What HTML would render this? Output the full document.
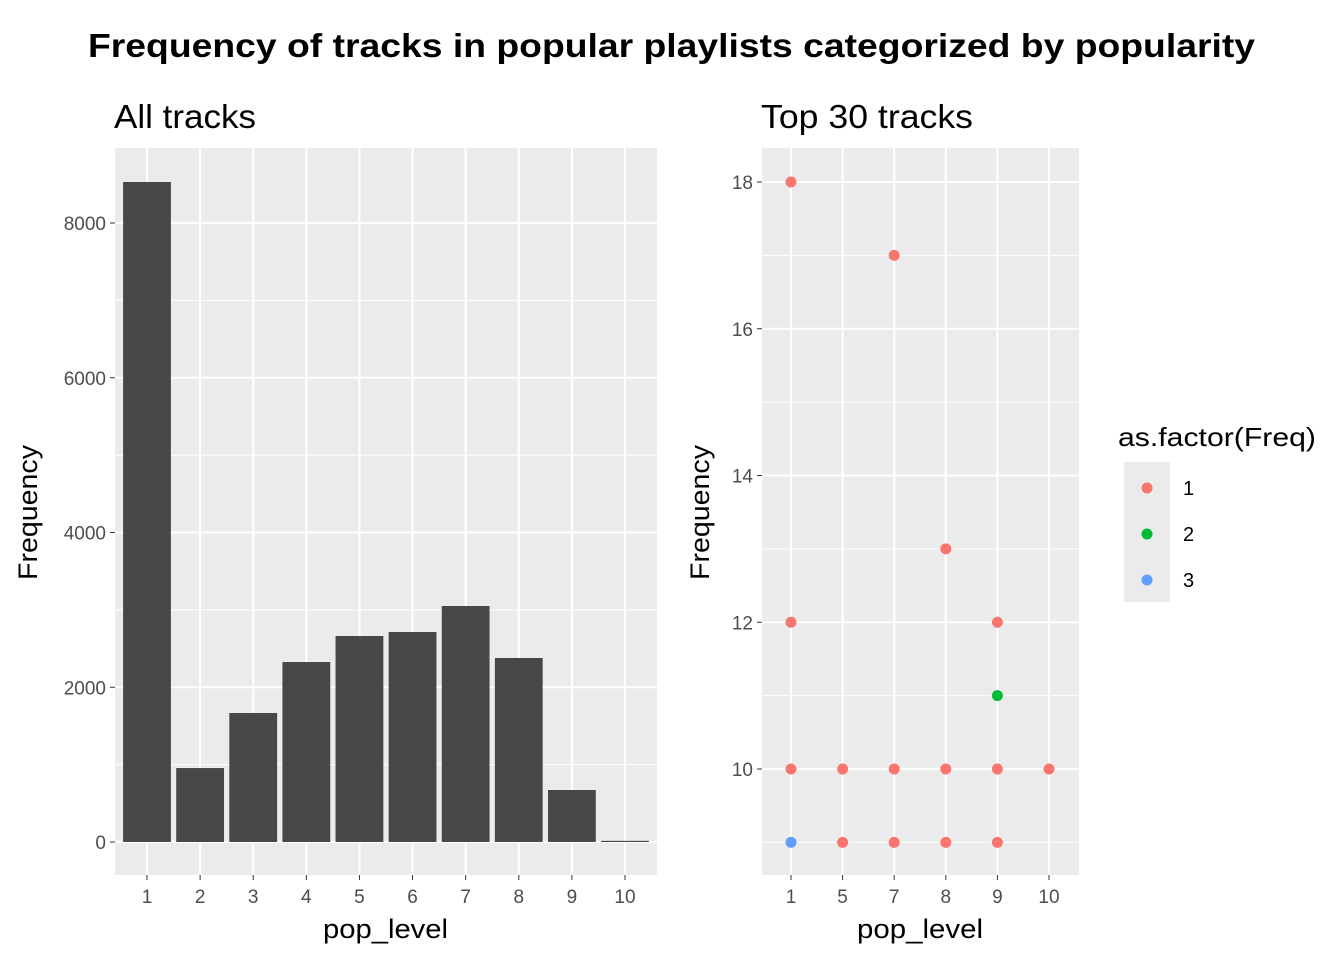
<!DOCTYPE html>
<html><head><meta charset="utf-8">
<style>
body{margin:0;background:#fff;}
svg{display:block;font-family:"Liberation Sans",Arial,sans-serif;}
</style></head>
<body>
<svg id="c" width="1344" height="960" viewBox="0 0 1344 960">
<text x="88" y="57" font-size="33" font-weight="bold" fill="#000" textLength="1167" lengthAdjust="spacingAndGlyphs">Frequency of tracks in popular playlists categorized by popularity</text>
<text x="114" y="128" font-size="33" fill="#000" textLength="142" lengthAdjust="spacingAndGlyphs">All tracks</text>
<text x="761" y="128" font-size="33" fill="#000" textLength="212" lengthAdjust="spacingAndGlyphs">Top 30 tracks</text>
<g id="left"></g>
<g id="right"></g>
<g id="legend"></g>
</svg>
<script>
const barCats=["1","2","3","4","5","6","7","8","9","10"];
const barVals=[8530,956,1667,2326,2662,2714,3050,2378,672,15];
const leftYTicks=[0,2000,4000,6000,8000];
const ptCats=["1","5","7","8","9","10"];
const ptX=["1","7","8","1","9","9","1","5","7","8","9","10","1","5","7","8","9"];
const ptY=[18,17,13,12,12,11,10,10,10,10,10,10,9,9,9,9,9];
const ptGroup=["1","1","1","1","1","2","1","1","1","1","1","1","3","1","1","1","1"];
const rightYTicks=[10,12,14,16,18];
const groups=["1","2","3"];
const groupColors={"1":"#F8766D","2":"#00BA38","3":"#619CFF"};
const NS="http://www.w3.org/2000/svg";
function mk(p,t,a){const e=document.createElementNS(NS,t);for(const k in a)e.setAttribute(k,a[k]);p.appendChild(e);return e;}
// left
const L=document.getElementById('left');
const lx0=115,lx1=657,ly0=148,ly1=875;
const ly=v=>842-v*(842-223)/8000;
const lxBand=i=>147+i*(625-147)/9;
let r=mk(L,'rect',{x:lx0,y:ly0,width:lx1-lx0,height:ly1-ly0,fill:'#EBEBEB'});

for(let i=0;i<leftYTicks.length-1;i++){const m=(leftYTicks[i]+leftYTicks[i+1])/2;mk(L,'line',{x1:lx0,x2:lx1,y1:ly(m),y2:ly(m),stroke:'#fff','stroke-width':1});}
mk(L,'line',{x1:lx0,x2:lx1,y1:ly(9000),y2:ly(9000),stroke:'#fff','stroke-width':1});
leftYTicks.forEach(t=>{mk(L,'line',{x1:lx0,x2:lx1,y1:ly(t),y2:ly(t),stroke:'#fff','stroke-width':2});
mk(L,'line',{x1:lx0-5,x2:lx0,y1:ly(t),y2:ly(t),stroke:'#333','stroke-width':1});
const tx=mk(L,'text',{x:lx0-9,y:ly(t)+7,'text-anchor':'end','font-size':19,fill:'#4D4D4D'});tx.textContent=t;
});
barCats.forEach((c,i)=>{const x=lxBand(i);mk(L,'line',{x1:x,x2:x,y1:ly0,y2:ly1,stroke:'#fff','stroke-width':2});
mk(L,'line',{x1:x,x2:x,y1:ly1,y2:ly1+5,stroke:'#333','stroke-width':1});
const tx=mk(L,'text',{x:x,y:ly1+28,'text-anchor':'middle','font-size':19,fill:'#4D4D4D'});tx.textContent=c;
});
const bw=0.9*(625-147)/9;
barVals.forEach((v,i)=>{const b=mk(L,'rect',{x:lxBand(i)-bw/2,y:ly(v),width:bw,height:ly(0)-ly(v),fill:'#474747'});
});
let t=mk(L,'text',{x:323,y:938,'font-size':27,textLength:125,lengthAdjust:'spacingAndGlyphs'});t.textContent='pop_level';

t=mk(L,'text',{x:0,y:0,'font-size':27,textLength:135,lengthAdjust:'spacingAndGlyphs',transform:'translate(37,580) rotate(-90)'});t.textContent='Frequency';

// right
const R=document.getElementById('right');
const rx0=762,rx1=1079;
const ry=v=>769-(v-10)*(769-182)/8;
const rxBand=i=>791+i*(1049-791)/5;
r=mk(R,'rect',{x:rx0,y:ly0,width:rx1-rx0,height:ly1-ly0,fill:'#EBEBEB'});

[9,11,13,15,17].forEach(m=>mk(R,'line',{x1:rx0,x2:rx1,y1:ry(m),y2:ry(m),stroke:'#fff','stroke-width':1}));
rightYTicks.forEach(t=>{mk(R,'line',{x1:rx0,x2:rx1,y1:ry(t),y2:ry(t),stroke:'#fff','stroke-width':2});
mk(R,'line',{x1:rx0-5,x2:rx0,y1:ry(t),y2:ry(t),stroke:'#333','stroke-width':1});
const tx=mk(R,'text',{x:rx0-9,y:ry(t)+7,'text-anchor':'end','font-size':19,fill:'#4D4D4D'});tx.textContent=t;
});
ptCats.forEach((c,i)=>{const x=rxBand(i);mk(R,'line',{x1:x,x2:x,y1:ly0,y2:ly1,stroke:'#fff','stroke-width':2});
mk(R,'line',{x1:x,x2:x,y1:ly1,y2:ly1+5,stroke:'#333','stroke-width':1});
const tx=mk(R,'text',{x:x,y:ly1+28,'text-anchor':'middle','font-size':19,fill:'#4D4D4D'});tx.textContent=c;
});
ptX.forEach((c,i)=>{const p=mk(R,'circle',{cx:rxBand(ptCats.indexOf(c)),cy:ry(ptY[i]),r:5.5,fill:groupColors[ptGroup[i]]});
});
t=mk(R,'text',{x:857,y:938,'font-size':27,textLength:126,lengthAdjust:'spacingAndGlyphs'});t.textContent='pop_level';

t=mk(R,'text',{x:0,y:0,'font-size':27,textLength:135,lengthAdjust:'spacingAndGlyphs',transform:'translate(709,580) rotate(-90)'});t.textContent='Frequency';

// legend
const G=document.getElementById('legend');
t=mk(G,'text',{x:1118,y:446,'font-size':26,textLength:198,lengthAdjust:'spacingAndGlyphs'});t.textContent='as.factor(Freq)';

mk(G,'rect',{x:1124,y:462,width:46,height:140,fill:'#EBEBEB'});
groups.forEach((g,i)=>{const y=488+i*46;
const c=mk(G,'circle',{cx:1147,cy:y,r:5.5,fill:groupColors[g]});

const tx=mk(G,'text',{x:1183,y:y+7,'font-size':20,fill:'#000'});tx.textContent=g;
});
</script>
</body></html>
